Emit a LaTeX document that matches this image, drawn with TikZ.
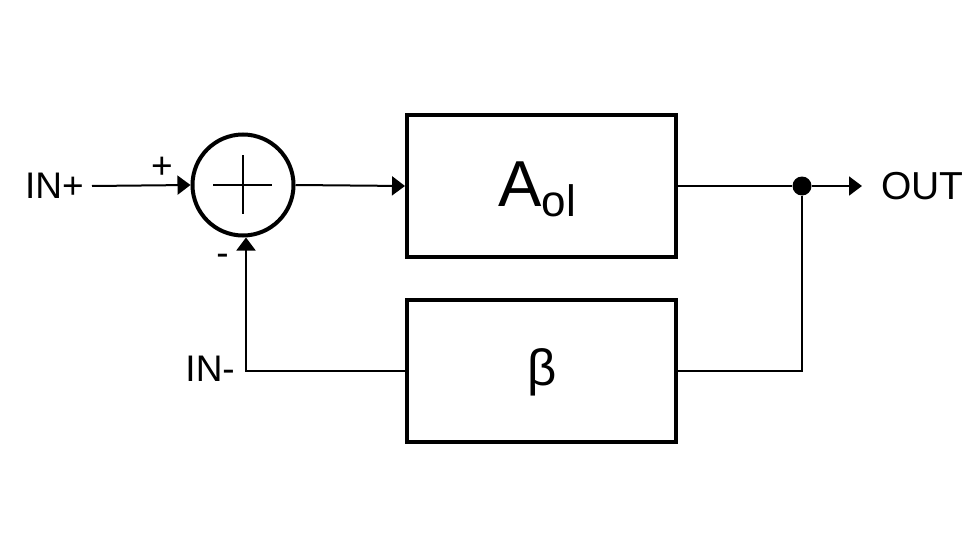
\documentclass[tikz,border=0pt]{standalone}
\usepackage{fontspec}
\setmainfont{Liberation Sans}
\usetikzlibrary{arrows.meta,calc}
\begin{document}
\begin{tikzpicture}[x=1pt,y=-1pt,
  wire/.style={line width=2pt},
  arr/.style={wire,-{Triangle[length=13pt,width=19pt]}},
  blk/.style={draw,line width=4pt,minimum width=269pt,minimum height=142pt,inner sep=0pt},
  lbl/.style={inner sep=0pt,font=\fontsize{37}{37}\selectfont},
]
\useasboundingbox[fill=white] (0,0) rectangle (980,551);
% summing junction
\node[draw,circle,line width=4pt,minimum size=101pt,inner sep=0pt] (sum) at (243,185) {};
\draw[line width=1.5pt] ($(sum.center)+(-30,0)$) -- ($(sum.center)+(29,0)$);
\draw[line width=1.5pt] ($(sum.center)+(0,-30)$) -- ($(sum.center)+(0,29)$);
% blocks
\node[blk] (A) at (541.5,186) {};
\node[blk] (B) at (541.5,370.5) {};
\node[anchor=base,inner sep=0pt] (Atxt) at (537,206)
  {{\fontsize{65}{65}\selectfont A}\raisebox{-10pt}{\fontsize{44}{44}\selectfont ol}};
\node[anchor=base,inner sep=0pt,font=\fontsize{51}{51}\selectfont] (Btxt) at (542.5,385) {β};
% terminals
\node[lbl,anchor=east,inner xsep=8pt] (inp) at (92,186) {IN+};
\node[lbl,anchor=east,inner xsep=11pt] (inm) at (246,369) {IN-};
\node[lbl,anchor=west,inner xsep=19pt,font=\fontsize{39}{39}\selectfont] (out) at (862,186) {OUT};
\node[lbl] (plus) at (162,168) {+};
\node[lbl] (minus) at (222.5,260) {-};
\node[circle,fill,inner sep=0pt,minimum size=19pt] (dot) at (802,186) {};
% connectors
\draw[arr] (inp.east) -- (sum.west);
\draw[arr] (sum.east) -- (A.west);
\draw[wire] (A.east) -- (dot);
\draw[arr] (dot) -- (out.west);
\draw[wire] (dot) |- (B.east);
\draw[arr] (B.west) -| ([xshift=3pt]sum.south);
\end{tikzpicture}
\end{document}
